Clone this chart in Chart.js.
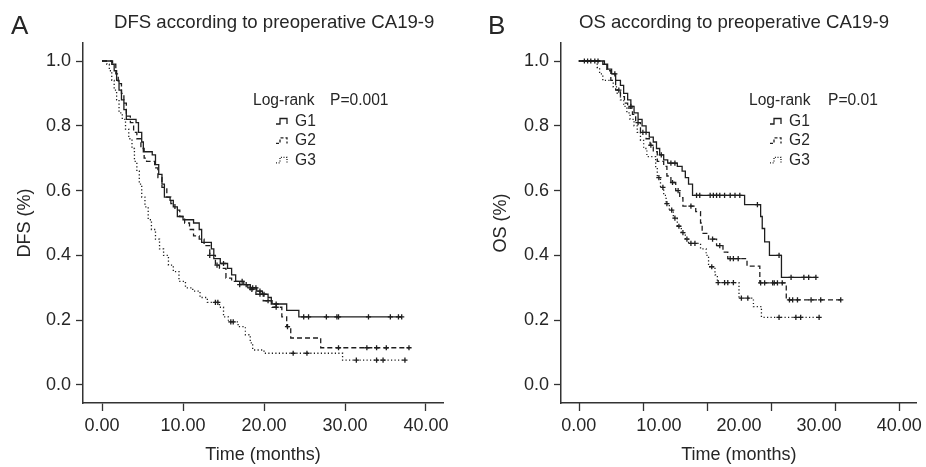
<!DOCTYPE html>
<html>
<head>
<meta charset="utf-8">
<script src="https://cdn.jsdelivr.net/npm/chart.js@4.4.0/dist/chart.umd.min.js"></script>
<style>
  body { margin: 0; background: #fff; }
  #wrap { position: relative; width: 926px; height: 467px; font-family: 'Liberation Sans', Arial, sans-serif; color: #262626; }
  canvas { position: absolute; top: 0; }
  .panel { position: absolute; font-size: 26px; line-height: 25px; }
  .title { position: absolute; font-size: 18.6px; line-height: 20px; white-space: nowrap; }
</style>
</head>
<body>
<div id="wrap">
  <canvas id="dfsChart" width="463" height="467" style="left:0"></canvas>
  <canvas id="osChart" width="463" height="467" style="left:463px"></canvas>
  <div class="panel" style="left:11px;top:13px">A</div>
  <div class="panel" style="left:488px;top:13px">B</div>
  <div class="title" style="left:114px;top:12px">DFS according to preoperative CA19-9</div>
  <div class="title" style="left:579px;top:12px">OS according to preoperative CA19-9</div>
</div>
<script>
'use strict';

// tick labels
const xTicks = [0, 10, 20, 30, 40];
const yTicks = [0, 0.2, 0.4, 0.6, 0.8, 1.0];
// tick marks under the OS x axis (drawn apart from the labels in the original)
const osTickMarks = [0, 8, 16, 24, 32, 40];

const groups = ['G1', 'G2', 'G3'];

// DFS - step times (months) and survival after each step, censored times
const dfsG1Time = [0, 1.2, 1.5, 1.8, 2.1, 2.4, 2.7, 3.0, 4.2, 4.5, 4.9, 5.1, 6.2, 6.6, 7.0, 7.4, 7.7, 8.4, 8.8, 9.3, 10.0, 11.3, 12.0, 12.3, 13.5, 13.8, 14.6, 15.5, 16.0, 16.5, 17.5, 18.3, 19.1, 19.8, 20.5, 20.9, 22.8, 24.3];
const dfsG1Surv = [1, 0.99, 0.97, 0.94, 0.91, 0.88, 0.85, 0.82, 0.81, 0.78, 0.75, 0.72, 0.71, 0.68, 0.65, 0.62, 0.58, 0.57, 0.55, 0.52, 0.51, 0.50, 0.48, 0.44, 0.42, 0.39, 0.375, 0.36, 0.34, 0.32, 0.31, 0.30, 0.29, 0.28, 0.27, 0.25, 0.23, 0.21];
const dfsG1Cens = [15.0, 17.3, 17.8, 18.3, 18.6, 19.0, 19.5, 20.0, 21.5, 24.9, 25.5, 27.7, 29.0, 29.2, 32.9, 35.6, 36.6, 37.0];

const dfsG2Time = [0, 1.3, 1.7, 2.0, 2.4, 2.7, 3.0, 3.5, 3.9, 4.3, 4.8, 5.2, 5.5, 6.5, 6.9, 7.4, 8.0, 8.5, 9.0, 9.6, 10.2, 10.8, 11.3, 12.0, 12.6, 13.3, 14.0, 14.5, 15.3, 16.0, 17.0, 18.0, 19.0, 19.9, 21.0, 22.2, 22.8, 23.3, 27.0];
const dfsG2Surv = [1, 0.99, 0.96, 0.93, 0.90, 0.87, 0.83, 0.81, 0.78, 0.76, 0.73, 0.70, 0.69, 0.67, 0.64, 0.61, 0.58, 0.56, 0.54, 0.52, 0.50, 0.48, 0.46, 0.45, 0.43, 0.40, 0.37, 0.36, 0.33, 0.32, 0.31, 0.295, 0.28, 0.26, 0.24, 0.21, 0.18, 0.145, 0.115];
const dfsG2Cens = [13.3, 14.2, 17.0, 18.5, 19.5, 20.5, 21.5, 22.9, 29.2, 32.7, 33.9, 35.1, 37.9];

const dfsG3Time = [0, 0.6, 0.9, 1.2, 1.5, 1.8, 2.1, 2.5, 2.9, 3.3, 3.7, 4.0, 4.3, 4.6, 4.9, 5.3, 5.7, 6.1, 6.6, 7.1, 7.6, 8.2, 8.8, 9.5, 10.3, 11.2, 12.1, 13.0, 14.5, 15.0, 15.6, 16.8, 17.7, 18.3, 18.6, 20.0, 29.7];
const dfsG3Surv = [1, 0.99, 0.97, 0.94, 0.91, 0.88, 0.84, 0.82, 0.79, 0.76, 0.73, 0.69, 0.66, 0.62, 0.58, 0.55, 0.51, 0.48, 0.45, 0.42, 0.40, 0.37, 0.35, 0.32, 0.30, 0.29, 0.27, 0.255, 0.24, 0.21, 0.195, 0.18, 0.155, 0.13, 0.108, 0.098, 0.077];
const dfsG3Cens = [14.0, 14.3, 15.9, 16.2, 23.6, 25.3, 31.4, 33.9, 34.7, 37.4];

// OS
const osG1Time = [0, 3.2, 3.6, 4.1, 4.6, 5.2, 5.6, 6.1, 6.5, 6.9, 7.4, 7.9, 8.4, 8.8, 9.3, 9.7, 10.1, 10.6, 11.1, 12.3, 12.9, 13.3, 13.7, 14.2, 20.7, 22.7, 22.9, 23.2, 23.8, 25.3];
const osG1Surv = [1, 0.99, 0.975, 0.96, 0.94, 0.925, 0.90, 0.88, 0.86, 0.84, 0.82, 0.80, 0.78, 0.765, 0.75, 0.73, 0.71, 0.695, 0.685, 0.675, 0.66, 0.64, 0.62, 0.585, 0.557, 0.52, 0.483, 0.442, 0.40, 0.332];
const osG1Cens = [0.7, 1.1, 1.5, 2.0, 2.4, 4.5, 6.5, 10.3, 11.5, 12.0, 14.7, 15.1, 16.4, 16.8, 17.2, 17.6, 18.2, 18.9, 19.5, 20.1, 22.3, 25.0, 26.5, 28.1, 28.7, 29.6];

const osG2Time = [0, 3.0, 3.5, 4.0, 4.6, 5.2, 5.7, 6.1, 6.7, 7.1, 7.7, 8.4, 8.9, 9.3, 9.8, 10.6, 11.0, 11.5, 12.1, 12.6, 13.0, 14.6, 15.2, 15.4, 16.2, 17.2, 18.0, 18.6, 21.0, 22.6, 25.9];
const osG2Surv = [1, 0.99, 0.97, 0.94, 0.91, 0.89, 0.87, 0.855, 0.835, 0.81, 0.78, 0.76, 0.74, 0.72, 0.69, 0.675, 0.645, 0.625, 0.60, 0.578, 0.552, 0.535, 0.50, 0.468, 0.45, 0.43, 0.41, 0.39, 0.367, 0.315, 0.263];
const osG2Cens = [5.0, 7.4, 8.0, 9.0, 11.7, 12.4, 14.0, 16.7, 17.6, 18.9, 19.3, 19.9, 22.7, 23.2, 24.2, 24.4, 24.8, 25.4, 26.3, 26.7, 27.3, 29.0, 30.2, 32.7];

const osG3Time = [0, 2.3, 2.6, 3.0, 4.3, 4.8, 5.2, 5.6, 6.0, 6.4, 6.9, 7.3, 7.7, 8.1, 8.5, 9.6, 9.8, 10.2, 10.6, 10.9, 11.3, 11.8, 12.3, 12.8, 13.3, 13.7, 15.2, 15.9, 16.2, 17.0, 17.3, 20.0, 21.8, 22.8];
const osG3Surv = [1, 0.98, 0.96, 0.94, 0.92, 0.90, 0.88, 0.86, 0.84, 0.82, 0.80, 0.78, 0.755, 0.73, 0.705, 0.67, 0.64, 0.61, 0.585, 0.56, 0.54, 0.515, 0.49, 0.47, 0.45, 0.437, 0.42, 0.40, 0.365, 0.34, 0.316, 0.268, 0.242, 0.209];
const osG3Cens = [10.0, 10.5, 11.0, 11.6, 12.0, 12.5, 13.0, 13.5, 14.0, 14.5, 16.6, 17.4, 18.2, 18.6, 19.3, 20.3, 21.1, 25.0, 27.1, 27.7, 30.0];

const lineColor = '#1e1e1e';
const dashes = [[], [5, 3], [1.2, 2.3]];

// survival value of a step curve at time t
function survAt(times, surv, t) {
  let s = surv[0];
  for (let i = 0; i < times.length; i++) {
    if (times[i] <= t) s = surv[i];
  }
  return s;
}

function kmDatasets(times, surv, cens, idx) {
  const last = Math.max(cens[cens.length - 1], times[times.length - 1]);
  const steps = times.map(function(t, i) { return {x: t, y: surv[i]} });
  steps.push({x: last, y: surv[surv.length - 1]});
  const marks = cens.map(function(t) { return {x: t, y: survAt(times, surv, t)} });
  return [{
    label: groups[idx],
    data: steps,
    stepped: 'before',
    borderColor: lineColor,
    borderWidth: 1.3,
    borderDash: dashes[idx],
    pointRadius: 0,
    fill: false
  }, {
    label: groups[idx] + ' censored',
    data: marks,
    showLine: false,
    pointStyle: 'cross',
    pointRadius: 2.6,
    pointBorderWidth: 1.3,
    borderColor: lineColor,
    backgroundColor: lineColor
  }];
}

// legend drawn inside the plot: title row + step symbols
const kmLegend = {
  id: 'kmLegend',
  afterDraw: function(chart, args, opts) {
    const ctx = chart.ctx;
    ctx.save();
    ctx.fillStyle = '#262626';
    ctx.font = "15.6px 'Liberation Sans', Arial, sans-serif";
    ctx.textBaseline = 'middle';
    ctx.fillText('Log-rank', opts.x, opts.y);
    ctx.fillText(opts.p, opts.px, opts.y);
    ctx.strokeStyle = lineColor;
    ctx.lineWidth = 1.3;
    groups.forEach(function(g, i) {
      const yc = opts.y + 20.5 + i * 19.4;
      const sx = opts.sx;
      ctx.setLineDash(i == 0 ? [] : (i == 1 ? [3, 2] : [1, 1.6]));
      ctx.beginPath();
      ctx.moveTo(sx, yc + 2.5);
      ctx.lineTo(sx + 4, yc + 2.5);
      ctx.lineTo(sx + 4, yc - 3);
      ctx.lineTo(sx + 11, yc - 3);
      ctx.lineTo(sx + 11, yc + 2.5);
      ctx.stroke();
      ctx.setLineDash([]);
      ctx.fillText(g, sx + 19, yc);
    });
    ctx.restore();
  }
};

// extra tick marks (OS panel)
const extraTicks = {
  id: 'extraTicks',
  afterDraw: function(chart, args, opts) {
    if (!opts.values) return;
    const ctx = chart.ctx;
    const xs = chart.scales.x;
    const b = chart.chartArea.bottom;
    ctx.save();
    ctx.strokeStyle = '#333';
    ctx.lineWidth = 1.3;
    opts.values.forEach(function(v) {
      const px = Math.round(xs.getPixelForValue(v)) + 0.5;
      ctx.beginPath();
      ctx.moveTo(px, b);
      ctx.lineTo(px, b + 8);
      ctx.stroke();
    });
    ctx.restore();
  }
};

Chart.defaults.font.family = "'Liberation Sans', Arial, sans-serif";
Chart.defaults.color = '#262626';

function KmChart(id, yTitle, series, cfg) {
  let context = document.querySelector(id).getContext('2d');
  let datasets = [];
  series.forEach(function(s, i) {
    datasets = datasets.concat(kmDatasets(s[0], s[1], s[2], i));
  });
  new Chart(context, {
    type: 'line',
    data: { datasets: datasets },
    plugins: [kmLegend, extraTicks],
    options: {
      responsive: false,
      animation: false,
      layout: { padding: { left: 0, right: cfg.padRight, top: 43, bottom: 0 } },
      plugins: {
        legend: { display: false },
        tooltip: { enabled: false },
        kmLegend: cfg.legend,
        extraTicks: { values: cfg.tickMarks }
      },
      scales: {
        x: {
          type: 'linear',
          min: cfg.xMin,
          max: cfg.xMax,
          afterBuildTicks: function(scale) { scale.ticks = xTicks.map(function(v) { return {value: v} }) },
          afterFit: function(scale) { scale.height = 64 },
          border: { color: '#333', width: 1.5 },
          grid: { drawOnChartArea: false, tickLength: 8, tickWidth: 1.3, tickColor: cfg.tickMarks ? 'rgba(0,0,0,0)' : '#333' },
          ticks: { font: { size: 18 }, padding: 4, maxRotation: 0, callback: function(v) { return Number(v).toFixed(2) } },
          title: { display: true, text: 'Time (months)', font: { size: 18 }, padding: { top: 0, bottom: 1 } }
        },
        y: {
          min: -0.0556,
          max: 1.0556,
          afterBuildTicks: function(scale) { scale.ticks = yTicks.map(function(v) { return {value: v} }) },
          afterFit: function(scale) { scale.width = cfg.yWidth },
          border: { color: '#333', width: 1.5 },
          grid: { drawOnChartArea: false, tickLength: 7, tickWidth: 1.3, tickColor: '#333' },
          ticks: { font: { size: 18 }, padding: 5, callback: function(v) { return Number(v).toFixed(1) } },
          title: { display: true, text: yTitle, font: { size: 18 }, padding: { top: cfg.yTitlePad, bottom: 0 } }
        }
      }
    }
  });
}

KmChart('#dfsChart', 'DFS (%)',
  [[dfsG1Time, dfsG1Surv, dfsG1Cens], [dfsG2Time, dfsG2Surv, dfsG2Cens], [dfsG3Time, dfsG3Surv, dfsG3Cens]],
  { padRight: 20, yWidth: 83, yTitlePad: 14, xMin: -2.35, xMax: 42.1,
    legend: { x: 253, y: 101, p: 'P=0.001', px: 330, sx: 276 } });

KmChart('#osChart', 'OS (%)',
  [[osG1Time, osG1Surv, osG1Cens], [osG2Time, osG2Surv, osG2Cens], [osG3Time, osG3Surv, osG3Cens]],
  { padRight: 5, yWidth: 98, yTitlePad: 27.7, xMin: -2.22, xMax: 42.2, tickMarks: osTickMarks,
    legend: { x: 286, y: 101, p: 'P=0.01', px: 365, sx: 307 } });
</script>
</body>
</html>
